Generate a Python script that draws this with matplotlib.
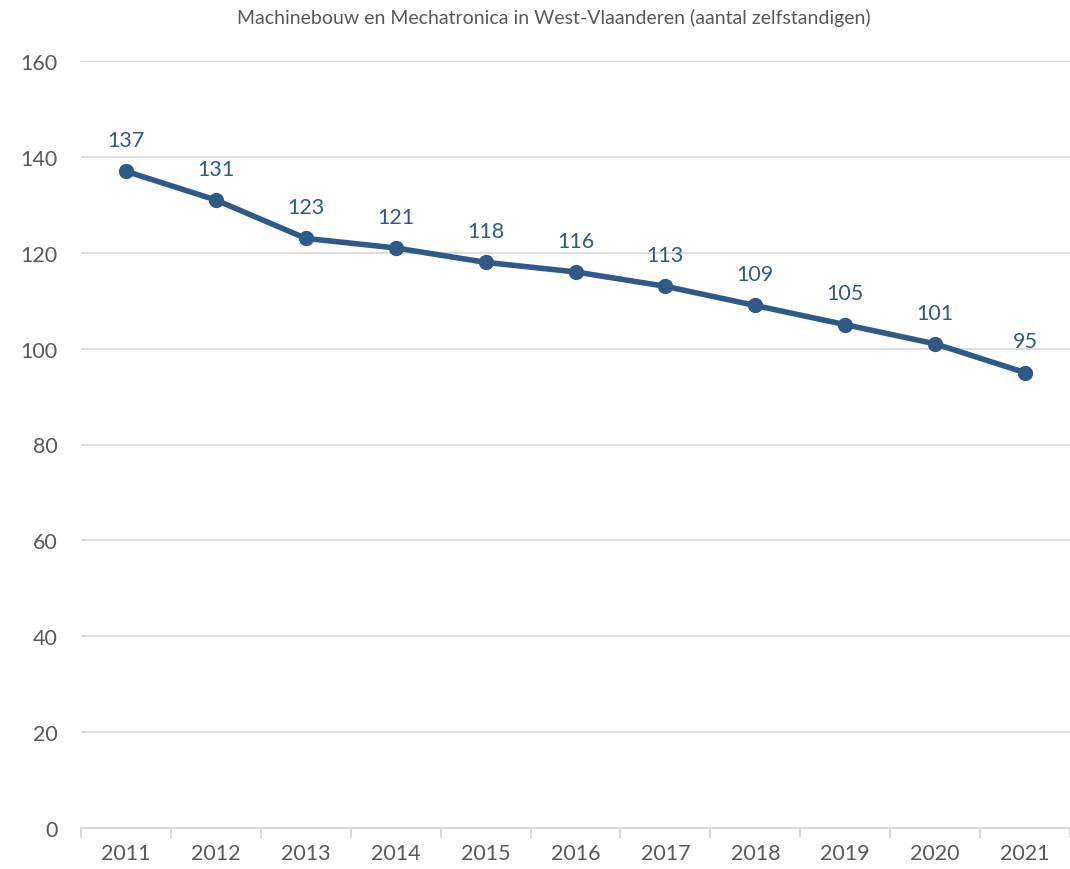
import matplotlib.pyplot as plt
import numpy as np

years = ["2011", "2012", "2013", "2014", "2015", "2016", "2017", "2018", "2019", "2020", "2021"]
values = [137, 131, 123, 121, 118, 116, 113, 109, 105, 101, 95]

plt.rcParams['font.family'] = ['Lato', 'DejaVu Sans']

line_col = '#2F5A88'
grid_col = '#D9D9D9'
text_col = '#595959'

fig = plt.figure(figsize=(10.7, 8.7), dpi=100)
ax = fig.add_axes([81 / 1070, 41 / 870, 989 / 1070, 767 / 870])

x = np.arange(len(years))
ax.plot(x, values, color=line_col, linewidth=4, marker='o', markersize=10, zorder=3)
for xi, v in zip(x, values):
    ax.annotate(str(v), (xi, v), xytext=(0, 22.5), textcoords='offset points',
                ha='center', va='center', fontsize=15.5, color=line_col)

ax.set_xlim(-0.5, len(years) - 0.5)
ax.set_ylim(0, 160)
ax.set_yticks(range(0, 161, 20))
ax.set_xticks(x)
ax.set_xticklabels(years)
ax.set_xticks(np.arange(-0.5, len(years), 1), minor=True)
ax.tick_params(axis='x', which='major', length=0, pad=11, labelsize=15.5, labelcolor=text_col)
ax.tick_params(axis='x', which='minor', length=7, color=grid_col, width=1.5)
ax.tick_params(axis='y', length=0, pad=17, labelsize=15.5, labelcolor=text_col)

ax.yaxis.grid(True, color=grid_col, linewidth=1.3)
ax.set_axisbelow(True)
for s in ['top', 'right', 'left']:
    ax.spines[s].set_visible(False)
ax.spines['bottom'].set_color(grid_col)
ax.spines['bottom'].set_linewidth(1.5)

fig.text(554 / 1070, 1 - 18 / 870, "Machinebouw en Mechatronica in West-Vlaanderen (aantal zelfstandigen)",
         ha='center', va='center', fontsize=14, color=text_col)

fig.savefig('out.png', dpi=100)
